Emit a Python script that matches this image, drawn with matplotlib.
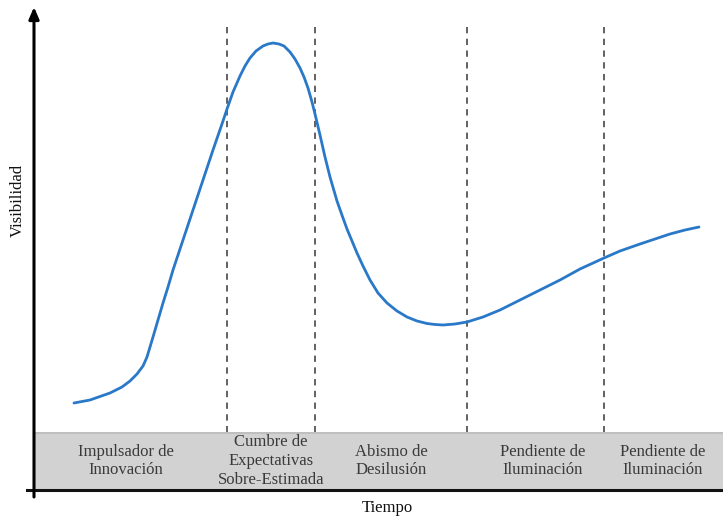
import matplotlib
matplotlib.use("Agg")
import matplotlib.pyplot as plt
from matplotlib.patches import Rectangle

# Curve (x: time, y: visibility, in picture units; y grows downward)
curve_x = [74, 90, 110, 122, 130, 137, 143, 147, 150, 153, 158, 163, 168, 173, 183, 193,
           203, 213, 223, 227, 233, 240, 245, 250, 256, 263, 268, 273, 279, 284, 290, 295,
           300, 304, 308, 312, 315, 320, 325, 330, 337, 343, 347, 352, 357, 363, 370, 378,
           387, 397, 407, 417, 427, 435, 443, 455, 467, 483, 500, 520, 540, 560, 580, 604,
           620, 640, 655, 670, 685, 699]
curve_y = [403, 400, 393, 387, 381, 374, 366, 357, 347, 337, 320, 303, 287, 270, 240, 210,
           180, 150, 121, 109, 92, 76, 66, 58, 51, 46, 44, 43, 44, 46, 52, 59,
           68, 77, 88, 102, 114, 135, 157, 177, 201, 218, 229, 241, 253, 266, 280, 293,
           303, 311, 317, 321, 323.5, 324.5, 325, 324, 322, 317, 310, 300, 290, 280, 269, 258,
           251, 244, 239, 234, 230, 227]

phase_lines = [227, 315, 467, 604]
phase_labels = ["Impulsador de\nInnovación",
                "Cumbre de\nExpectativas\nSobre-Estimada",
                "Abismo de\nDesilusión",
                "Pendiente de\nIluminación",
                "Pendiente de\nIluminación"]
label_x = [126, 271, 391, 543, 663]
label_y = [461, 461, 461, 461, 461]

plt.rcParams['font.family'] = ['Liberation Serif', 'DejaVu Serif']

fig = plt.figure(figsize=(7.23, 5.18), dpi=100)
ax = fig.add_axes([0, 0, 1, 1])
ax.set_xlim(0, 723)
ax.set_ylim(518, 0)
ax.axis('off')

# gray band
ax.add_patch(Rectangle((34, 432), 689, 57, facecolor='#d2d2d2', edgecolor='none', zorder=1))
ax.plot([34, 723], [432.5, 432.5], color='#bcbcbc', lw=1.2, zorder=2)

# dashed phase lines
for x in phase_lines:
    ax.plot([x, x], [27, 432], color='#555555', lw=1.3, ls=(0, (3.5, 3)), zorder=2)

# curve
ax.plot(curve_x, curve_y, color='#2a78c8', lw=2.0, zorder=3, solid_capstyle='round',
        solid_joinstyle='round')

# axes
ax.plot([27, 723], [490, 490], color='#111111', lw=2.2, zorder=4)
ax.annotate('', xy=(34, 7), xytext=(34, 497),
            arrowprops=dict(arrowstyle='-|>,head_length=0.7,head_width=0.3', color='black', lw=2.2,
                            shrinkA=0, shrinkB=0), zorder=5)

for x, y, t in zip(label_x, label_y, phase_labels):
    ax.text(x, y, t, ha='center', va='center', fontsize=12, color='#3a3a3a',
            linespacing=1.25, zorder=5)

ax.text(387, 508, 'Tiempo', ha='center', va='center', fontsize=12, color='#111111')
ax.text(18, 200, 'Visibilidad', ha='center', va='center', rotation=90, fontsize=12, color='#111111')

fig.savefig('out.png', dpi=100)
